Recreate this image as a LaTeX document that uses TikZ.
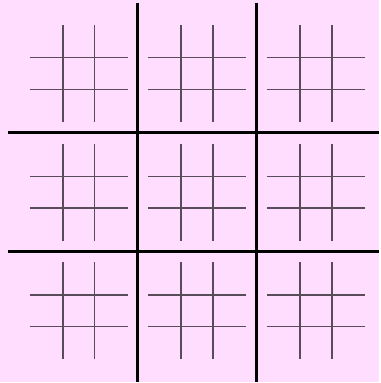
\documentclass[tikz,border=0pt]{standalone}
\usepackage{xcolor}
\usepackage{tikz}
\definecolor{boardbg}{HTML}{FFDDFF}
\definecolor{finec}{HTML}{584C58}
\tikzset{
  heavy/.style={line width=3pt,black},
  fine/.style={line width=1.5pt,finec}
}
\begin{document}
\begin{tikzpicture}[x=1pt,y=-1pt]
\fill[boardbg] (0,0) rectangle (380,383);
% small boards
\foreach \cx in {79,197.8,317.2}
  \foreach \cy in {73.6,193,312}
  {
    \foreach \d in {-16,16} {
      \draw[fine] (\cx-49,\cy+\d)--(\cx+49,\cy+\d);
      \draw[fine] (\cx+\d,\cy-48.5)--(\cx+\d,\cy+48.5);
    }
  }
% big board
\foreach \x in {138.3,257.7}
  \draw[heavy] (\x,3)--(\x,383);
\foreach \y in {133.3,252.3}
  \draw[heavy] (8,\y)--(380,\y);
\end{tikzpicture}
\end{document}
